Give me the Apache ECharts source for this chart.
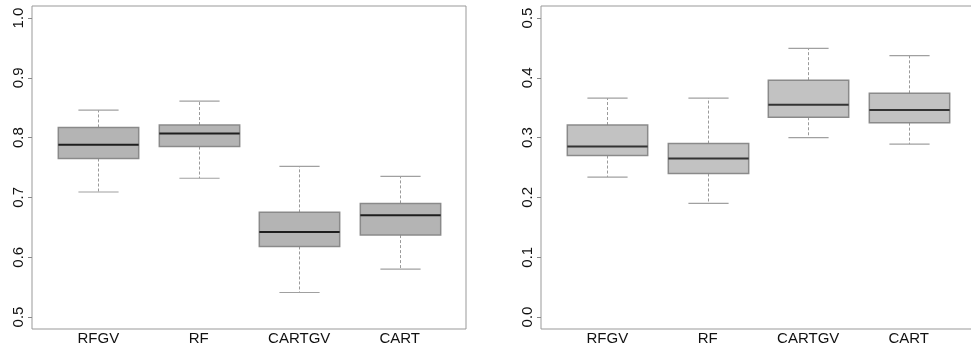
<!DOCTYPE html>
<html>
<head>
<meta charset="utf-8">
<script src="https://cdn.jsdelivr.net/npm/echarts@6/dist/echarts.min.js"></script>
<style>
  html, body { margin: 0; padding: 0; background: #fff; }
  #chart { width: 971px; height: 352px; }
</style>
</head>
<body>
<div id="chart"></div>
<script>
"use strict";

var categories = ['RFGV', 'RF', 'CARTGV', 'CART'];

// left panel
var leftLow    = [0.709, 0.732, 0.541, 0.580];
var leftQ1     = [0.765, 0.785, 0.618, 0.637];
var leftMedian = [0.788, 0.807, 0.642, 0.670];
var leftQ3     = [0.817, 0.821, 0.675, 0.690];
var leftHigh   = [0.846, 0.861, 0.752, 0.735];
var leftTicks  = [0.5, 0.6, 0.7, 0.8, 0.9, 1.0];

// right panel
var rightLow    = [0.234, 0.190, 0.300, 0.289];
var rightQ1     = [0.270, 0.240, 0.334, 0.325];
var rightMedian = [0.285, 0.265, 0.355, 0.346];
var rightQ3     = [0.321, 0.290, 0.396, 0.374];
var rightHigh   = [0.366, 0.366, 0.449, 0.437];
var rightTicks  = [0.0, 0.1, 0.2, 0.3, 0.4, 0.5];

var FONT = 'Liberation Sans, Arial, sans-serif';

function buildRows(low, q1, med, q3, high) {
	var rows = [];
	for (var i = 0; i < categories.length; i++) {
		rows.push([i + 1, low[i], q1[i], med[i], q3[i], high[i]]);
	}
	return rows;
}

function boxRenderer(fill, medianColor) {
	return function(params, api) {
		var x = api.value(0);
		var pLow = api.coord([x, api.value(1)]);
		var pQ1 = api.coord([x, api.value(2)]);
		var pMed = api.coord([x, api.value(3)]);
		var pQ3 = api.coord([x, api.value(4)]);
		var pHigh = api.coord([x, api.value(5)]);
		var half = api.size([0.8, 0])[0] / 2;
		var cap = half / 2;
		var cx = Math.round(pMed[0]) + 0.5;
		var whisker = { stroke: '#9a9a9a', lineWidth: 1, lineDash: [3, 2] };
		var capStyle = { stroke: '#a0a0a0', lineWidth: 1.2 };
		return {
			type: 'group',
			children: [
				{ type: 'line', shape: { x1: cx, y1: pQ3[1], x2: cx, y2: pHigh[1] }, style: whisker },
				{ type: 'line', shape: { x1: cx, y1: pQ1[1], x2: cx, y2: pLow[1] }, style: whisker },
				{ type: 'line', shape: { x1: cx - cap, y1: pHigh[1], x2: cx + cap, y2: pHigh[1] }, style: capStyle },
				{ type: 'line', shape: { x1: cx - cap, y1: pLow[1], x2: cx + cap, y2: pLow[1] }, style: capStyle },
				{
					type: 'rect',
					shape: { x: cx - half, y: pQ3[1], width: half * 2, height: pQ1[1] - pQ3[1] },
					style: { fill: fill, stroke: '#8a8a8a', lineWidth: 1.5 }
				},
				{ type: 'line', shape: { x1: cx - half, y1: pMed[1], x2: cx + half, y2: pMed[1] }, style: { stroke: medianColor, lineWidth: 2 } }
			]
		};
	};
}

function yAxis(gridIndex, min, max, ticks) {
	return {
		type: 'value',
		gridIndex: gridIndex,
		min: min,
		max: max,
		splitLine: { show: false },
		axisLine: { show: false },
		axisTick: { show: true, inside: false, length: 4, customValues: ticks, lineStyle: { color: '#888' } },
		axisLabel: {
			customValues: ticks,
			rotate: 90,
			margin: 6,
			color: '#111',
			fontFamily: FONT,
			fontSize: 15,
			formatter: function(v) { return v.toFixed(1); }
		}
	};
}

function xAxis(gridIndex) {
	return {
		type: 'value',
		gridIndex: gridIndex,
		min: 0.34,
		max: 4.66,
		splitLine: { show: false },
		axisLine: { show: false },
		axisTick: { show: false },
		axisLabel: {
			customValues: [1, 2, 3, 4],
			margin: 2,
			color: '#111',
			fontFamily: FONT,
			fontSize: 15,
			formatter: function(v) { return categories[Math.round(v) - 1]; }
		}
	};
}

var chart = echarts.init(document.getElementById('chart'), null, { renderer: 'canvas' });

chart.setOption({
	animation: false,
	backgroundColor: '#fff',
	grid: [
		{ left: 32, top: 6, width: 434, height: 323, outerBoundsMode: 'none', show: true, borderColor: '#999', borderWidth: 1, backgroundColor: 'transparent' },
		{ left: 541, top: 6, width: 434, height: 323, outerBoundsMode: 'none', show: true, borderColor: '#999', borderWidth: 1, backgroundColor: 'transparent' }
	],
	xAxis: [xAxis(0), xAxis(1)],
	yAxis: [yAxis(0, 0.48, 1.02, leftTicks), yAxis(1, -0.02, 0.52, rightTicks)],
	series: [
		{
			type: 'custom',
			xAxisIndex: 0,
			yAxisIndex: 0,
			renderItem: boxRenderer('#b4b4b4', '#1e1e1e'),
			encode: { x: 0, y: [1, 2, 3, 4, 5] },
			data: buildRows(leftLow, leftQ1, leftMedian, leftQ3, leftHigh)
		},
		{
			type: 'custom',
			xAxisIndex: 1,
			yAxisIndex: 1,
			renderItem: boxRenderer('#c2c2c2', '#333'),
			encode: { x: 0, y: [1, 2, 3, 4, 5] },
			data: buildRows(rightLow, rightQ1, rightMedian, rightQ3, rightHigh)
		}
	]
});
</script>
</body>
</html>
